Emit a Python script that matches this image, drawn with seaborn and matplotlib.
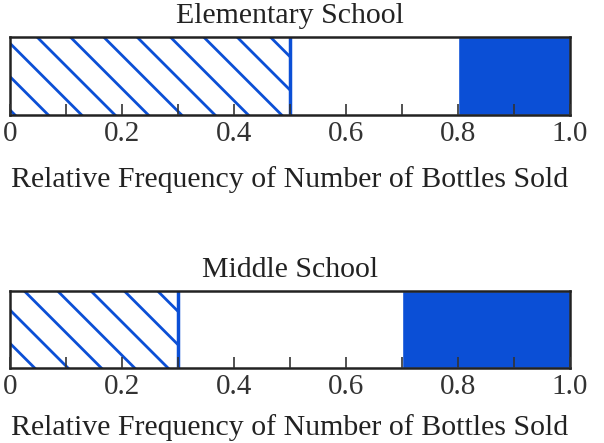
import numpy as np
import pandas as pd
import matplotlib.pyplot as plt
import seaborn as sns

sns.set_theme(style="white")
plt.rcParams['font.family'] = ['Liberation Serif', 'DejaVu Serif']
plt.rcParams['hatch.color'] = '#0b4fd6'
plt.rcParams['hatch.linewidth'] = 2.0

# data
schools = ['Elementary School', 'Middle School']
hatched_end = [0.5, 0.3]   # end of the hatched (blue striped) part
blank_end = [0.8, 0.7]     # end of the white part, solid blue after that
total = [1.0, 1.0]

blue = '#0b4fd6'
ticks = [0, 0.2, 0.4, 0.6, 0.8, 1.0]
ticklabels = ['0', '0.2', '0.4', '0.6', '0.8', '1.0']

fig = plt.figure(figsize=(6.04, 4.43), dpi=100)
boxes = [[0.0166, 0.740, 0.927, 0.176], [0.0166, 0.169, 0.927, 0.174]]
label_pads = [14, 10]

for i, name in enumerate(schools):
    ax = fig.add_axes(boxes[i])
    # overlapping cumulative bars, longest first
    sns.barplot(x=[total[i]], y=[0], orient='h', color=blue, saturation=1,
                width=1, ax=ax)
    sns.barplot(x=[blank_end[i]], y=[0], orient='h', color='white',
                saturation=1, width=1, ax=ax)
    sns.barplot(x=[hatched_end[i]], y=[0], orient='h', color='white',
                saturation=1, width=1, ax=ax)
    ax.patches[-1].set_hatch('\\')
    ax.patches[-1].set_edgecolor(blue)
    ax.patches[-1].set_linewidth(0)
    ax.axvline(hatched_end[i], color=blue, lw=2.5)
    ax.set_axisbelow(False)

    ax.set_xlim(0, 1)
    ax.set_ylim(-0.5, 0.5)
    ax.set_yticks([])
    ax.set_ylabel('')
    ax.set_xticks(ticks)
    ax.set_xticklabels(ticklabels, fontsize=21, color='#333333')
    ax.set_xticks(np.arange(0.1, 1.0, 0.2), minor=True)
    ax.tick_params(axis='x', which='both', direction='in', length=8,
                   width=1.2, color='#333333', bottom=True, pad=4)
    for s in ax.spines.values():
        s.set_visible(True)
        s.set_color('#222222')
        s.set_linewidth(1.8)
    ax.set_title(name, fontsize=21.5, color='#222222', pad=10)
    ax.set_xlabel('Relative Frequency of Number of Bottles Sold',
                  fontsize=21.5, color='#222222', labelpad=label_pads[i])

fig.savefig('out.png', dpi=100, facecolor='white')
